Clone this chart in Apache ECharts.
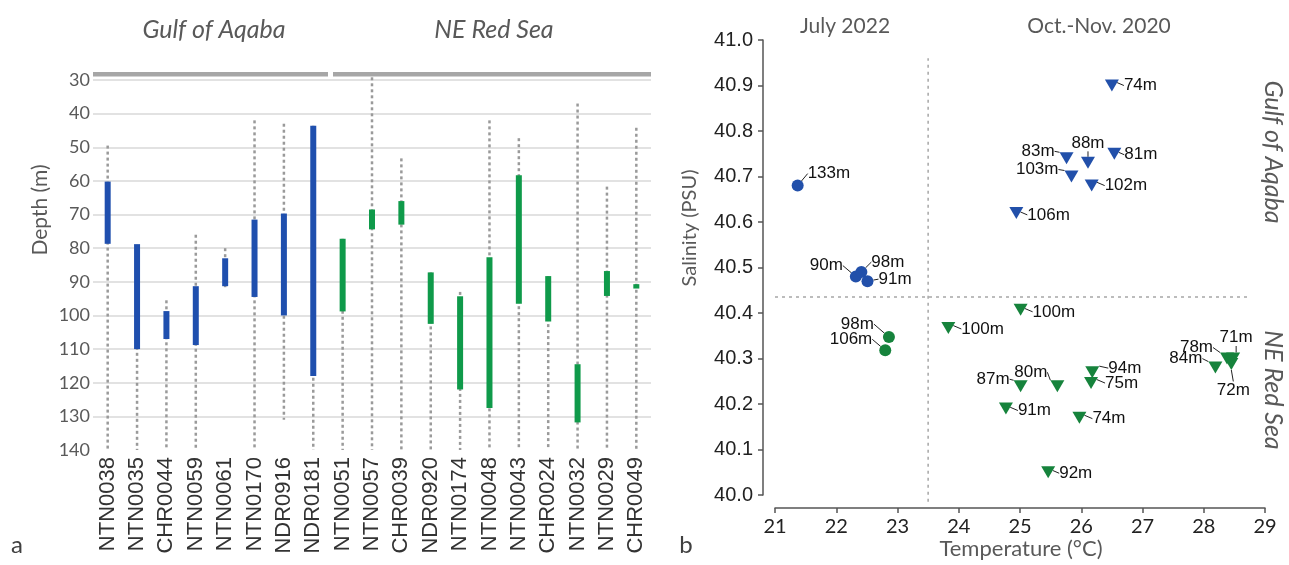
<!DOCTYPE html>
<html>
<head>
<meta charset="utf-8">
<script src="https://cdn.jsdelivr.net/npm/echarts@6/dist/echarts.min.js"></script>
<style>
html,body{margin:0;padding:0;background:#fff;}
#c{width:1289px;height:565px;}
</style>
</head>
<body>
<div id="c"></div>
<script>
// ---------- Panel a: depth ranges per station ----------
const stations = ['NTN0038','NTN0035','CHR0044','NTN0059','NTN0061','NTN0170','NDR0916','NDR0181',
  'NTN0051','NTN0057','CHR0039','NDR0920','NTN0174','NTN0048','NTN0043','CHR0024','NTN0032','NTN0029','CHR0049'];
const stationRegion = [0,0,0,0,0,0,0,0, 1,1,1,1,1,1,1,1,1,1,1]; // 0 = Gulf of Aqaba, 1 = NE Red Sea
const dottedTop    = [49.5, 79, 95.5, 76, 80, 42, 43, 43.6, 77.2, 29.2, 53.3, 87.2, 93, 42, 47.3, 88.3, 37, 61.7, 44.2];
const dottedBottom = [140, 140, 140, 140, 92, 140, 131, 140, 140, 140, 140, 140, 140, 140, 140, 140, 140, 140, 140];
const rangeTop     = [60.2, 78.8, 98.7, 91.3, 83, 71.5, 69.7, 43.6, 77.2, 68.5, 66, 87.2, 94.3, 82.7, 58.3, 88.3, 114.5, 86.8, 90.7];
const rangeBottom  = [78.7, 110, 107, 108.8, 91.3, 94.5, 100, 118, 98.8, 74.4, 73, 102.5, 122, 127.5, 96.5, 101.8, 131.8, 94.2, 92];

// ---------- Panel b: T-S scatter ----------
const gulfJulyT = [21.37, 22.32, 22.41, 22.51];
const gulfJulyS = [40.68, 40.48, 40.49, 40.47];
const gulfJulyDepth = ['133m','90m','98m','91m'];

const gulfOctT = [26.50, 25.76, 26.11, 26.54, 25.84, 26.17, 24.94];
const gulfOctS = [40.90, 40.74, 40.73, 40.75, 40.70, 40.68, 40.62];
const gulfOctDepth = ['74m','83m','88m','81m','103m','102m','106m'];

const redJulyT = [22.86, 22.80];
const redJulyS = [40.347, 40.318];
const redJulyDepth = ['98m','106m'];

const redOctT = [23.83, 25.01, 25.01, 25.61, 26.18, 26.16, 24.77, 25.97, 25.46, 28.19, 28.38, 28.48, 28.45];
const redOctS = [40.367, 40.407, 40.239, 40.239, 40.27, 40.246, 40.19, 40.17, 40.05, 40.28, 40.30, 40.30, 40.288];
const redOctDepth = ['100m','100m','87m','80m','94m','75m','91m','74m','92m','84m','78m','71m','72m'];

const tempTicks = [21, 29];
const salTicks = [40, 41];
const regionDivS = 40.435;
const periodDivT = 23.5;

// label placement (pixel offsets from marker, alignment) -- layout only
const gulfJulyLab = [[10,-12,'left'],[-13,-11,'right'],[10,-10,'left'],[11,-2,'left']];
const gulfOctLab = [[12,0,'left'],[-12,-7,'right'],[0,-20,'center'],[10,1,'left'],[-13,-7,'right'],[13,0,'left'],[11,2,'left']];
const redJulyLab = [[-15,-13,'right'],[-13,-11,'right']];
const redOctLab = [[13,1,'left'],[12,2,'left'],[-11,-7,'right'],[-10,-14,'right'],[16,-4,'left'],[14,0,'left'],
  [12,2,'left'],[13,1,'left'],[11,1,'left'],[-13,-9,'right'],[-14,-11,'right'],[3,-21,'center'],[2,26,'center']];

const BLUE_BAR = '#1f4fae', GREEN_BAR = '#0f9a4a';
const BLUE_PT = '#2250aa', GREEN_PT = '#16833c';

function zip(a, b, c) { return a.map((v, i) => [v, b[i], c[i]]); }

function labelLayoutFor(offsets) {
  return function (params) {
    const o = offsets[params.dataIndex];
    const cx = params.rect.x + params.rect.width / 2;
    const cy = params.rect.y + params.rect.height / 2;
    return { x: cx + o[0], y: cy + o[1], align: o[2], verticalAlign: 'middle' };
  };
}

function scatterSeries(T, S, D, offs, color, symbol, size) {
  return {
    type: 'scatter', xAxisIndex: 1, yAxisIndex: 1,
    data: zip(T, S, D),
    symbol: symbol, symbolSize: size, symbolRotate: symbol === 'triangle' ? 180 : 0,
    itemStyle: { color: color, opacity: 1 },
    label: {
      show: true, formatter: p => p.value[2], position: 'right',
      fontFamily: 'Liberation Sans, Arial, sans-serif', fontSize: 17, color: '#111', padding: 0
    },
    labelLayout: labelLayoutFor(offs),
    labelLine: { show: true, length2: 0, smooth: false, lineStyle: { color: '#222', width: 1 } },
    emphasis: { disabled: true },
    z: 5
  };
}

const chart = echarts.init(document.getElementById('c'));
const grey = '#595959';
const calibri = 'Lato, "Open Sans", sans-serif';

const option = {
  animation: false,
  backgroundColor: '#fff',
  grid: [
    { left: 93, right: 638, top: 80, bottom: 115 },
    { left: 775, right: 24, top: 40, bottom: 70 }
  ],
  xAxis: [
    {
      gridIndex: 0, type: 'category', data: stations,
      axisLine: { show: false }, axisTick: { show: false }, splitLine: { show: false },
      axisLabel: { rotate: 90, interval: 0, margin: 7, fontFamily: 'Liberation Sans, Arial, sans-serif', fontSize: 22, color: '#333' }
    },
    {
      gridIndex: 1, type: 'value', min: tempTicks[0], max: tempTicks[1], interval: 1, offset: 13,
      axisLine: { show: true, lineStyle: { color: '#555', width: 1.5 } },
      axisTick: { show: true, length: 5, lineStyle: { color: '#555', width: 1.5 } },
      splitLine: { show: false },
      axisLabel: { margin: 9, fontFamily: calibri, fontSize: 20, color: '#222' }
    }
  ],
  yAxis: [
    {
      gridIndex: 0, type: 'value', inverse: true, min: 30, max: 140, interval: 10,
      axisLine: { show: false }, axisTick: { show: false },
      splitLine: { show: true, showMaxLine: false, lineStyle: { color: '#d9d9d9', width: 1.5 } },
      axisLabel: { margin: 3, fontFamily: calibri, fontSize: 18, color: grey }
    },
    {
      gridIndex: 1, type: 'value', min: salTicks[0], max: salTicks[1], interval: 0.1, offset: 12,
      axisLine: { show: true, lineStyle: { color: '#555', width: 1.5 } },
      axisTick: { show: true, length: 5, lineStyle: { color: '#555', width: 1.5 } },
      splitLine: { show: false },
      axisLabel: { margin: 10, fontFamily: 'Liberation Sans, Arial, sans-serif', fontSize: 20, color: '#222',
        formatter: v => v.toFixed(1) }
    }
  ],
  series: [
    {
      type: 'custom', xAxisIndex: 0, yAxisIndex: 0, clip: false,
      data: stations.map((s, i) => [i, dottedTop[i], dottedBottom[i]]),
      renderItem: function (params, api) {
        const p1 = api.coord([api.value(0), api.value(1)]);
        const p2 = api.coord([api.value(0), api.value(2)]);
        return { type: 'line', shape: { x1: p1[0], y1: p1[1], x2: p2[0], y2: p2[1] },
          style: { stroke: '#9a9a9a', lineWidth: 2.5, lineDash: [3, 3] } };
      },
      silent: true, z: 2
    },
    {
      type: 'custom', xAxisIndex: 0, yAxisIndex: 0, clip: false,
      data: stations.map((s, i) => [i, rangeTop[i], rangeBottom[i], stationRegion[i]]),
      renderItem: function (params, api) {
        const p1 = api.coord([api.value(0), api.value(1)]);
        const p2 = api.coord([api.value(0), api.value(2)]);
        return { type: 'rect', shape: { x: p1[0] - 3, y: p1[1], width: 6, height: p2[1] - p1[1] },
          style: { fill: api.value(3) === 0 ? BLUE_BAR : GREEN_BAR } };
      },
      silent: true, z: 3
    },
    {
      type: 'line', xAxisIndex: 1, yAxisIndex: 1, clip: false, symbol: 'none', silent: true,
      data: [[periodDivT, 39.985], [periodDivT, 40.96]],
      lineStyle: { color: '#a6a6a6', width: 1.5, type: [3, 4] }, z: 1
    },
    {
      type: 'line', xAxisIndex: 1, yAxisIndex: 1, clip: false, symbol: 'none', silent: true,
      data: [[21, regionDivS], [28.75, regionDivS]],
      lineStyle: { color: '#a6a6a6', width: 1.5, type: [3, 4] }, z: 1
    },
    scatterSeries(gulfJulyT, gulfJulyS, gulfJulyDepth, gulfJulyLab, BLUE_PT, 'circle', 12),
    scatterSeries(gulfOctT, gulfOctS, gulfOctDepth, gulfOctLab, BLUE_PT, 'triangle', [14, 12]),
    scatterSeries(redJulyT, redJulyS, redJulyDepth, redJulyLab, GREEN_PT, 'circle', 12),
    scatterSeries(redOctT, redOctS, redOctDepth, redOctLab, GREEN_PT, 'triangle', [14, 12])
  ],
  graphic: [
    { type: 'text', x: 214, y: 30, style: { text: 'Gulf of Aqaba', font: 'italic 25px ' + calibri, fill: grey, textAlign: 'center', textVerticalAlign: 'middle' } },
    { type: 'text', x: 494, y: 30, style: { text: 'NE Red Sea', font: 'italic 25px ' + calibri, fill: grey, textAlign: 'center', textVerticalAlign: 'middle' } },
    { type: 'rect', shape: { x: 93, y: 72, width: 235, height: 4.5 }, style: { fill: '#a6a6a6' } },
    { type: 'rect', shape: { x: 333, y: 72, width: 318, height: 4.5 }, style: { fill: '#a6a6a6' } },
    { type: 'text', x: 40, y: 210, rotation: Math.PI / 2, style: { text: 'Depth (m)', font: '21px ' + calibri, fill: grey, textAlign: 'center', textVerticalAlign: 'middle' } },
    { type: 'text', x: 17, y: 545, style: { text: 'a', font: '24px ' + calibri, fill: '#404040', textAlign: 'center', textVerticalAlign: 'middle' } },
    { type: 'text', x: 686, y: 545, style: { text: 'b', font: '24px ' + calibri, fill: '#404040', textAlign: 'center', textVerticalAlign: 'middle' } },
    { type: 'text', x: 845, y: 26, style: { text: 'July 2022', font: '21px ' + calibri, fill: grey, textAlign: 'center', textVerticalAlign: 'middle' } },
    { type: 'text', x: 1099, y: 26, style: { text: 'Oct.-Nov. 2020', font: '21px ' + calibri, fill: grey, textAlign: 'center', textVerticalAlign: 'middle' } },
    { type: 'text', x: 690, y: 228, rotation: Math.PI / 2, style: { text: 'Salinity (PSU)', font: '20px ' + calibri, fill: grey, textAlign: 'center', textVerticalAlign: 'middle' } },
    { type: 'text', x: 1021, y: 549, style: { text: 'Temperature (°C)', font: '22px ' + calibri, fill: grey, textAlign: 'center', textVerticalAlign: 'middle' } },
    { type: 'text', x: 1273, y: 152, rotation: -Math.PI / 2, style: { text: 'Gulf of Aqaba', font: 'italic 25px ' + calibri, fill: grey, textAlign: 'center', textVerticalAlign: 'middle' } },
    { type: 'text', x: 1273, y: 390, rotation: -Math.PI / 2, style: { text: 'NE Red Sea', font: 'italic 25px ' + calibri, fill: grey, textAlign: 'center', textVerticalAlign: 'middle' } }
  ]
};
chart.setOption(option);
</script>
</body>
</html>
